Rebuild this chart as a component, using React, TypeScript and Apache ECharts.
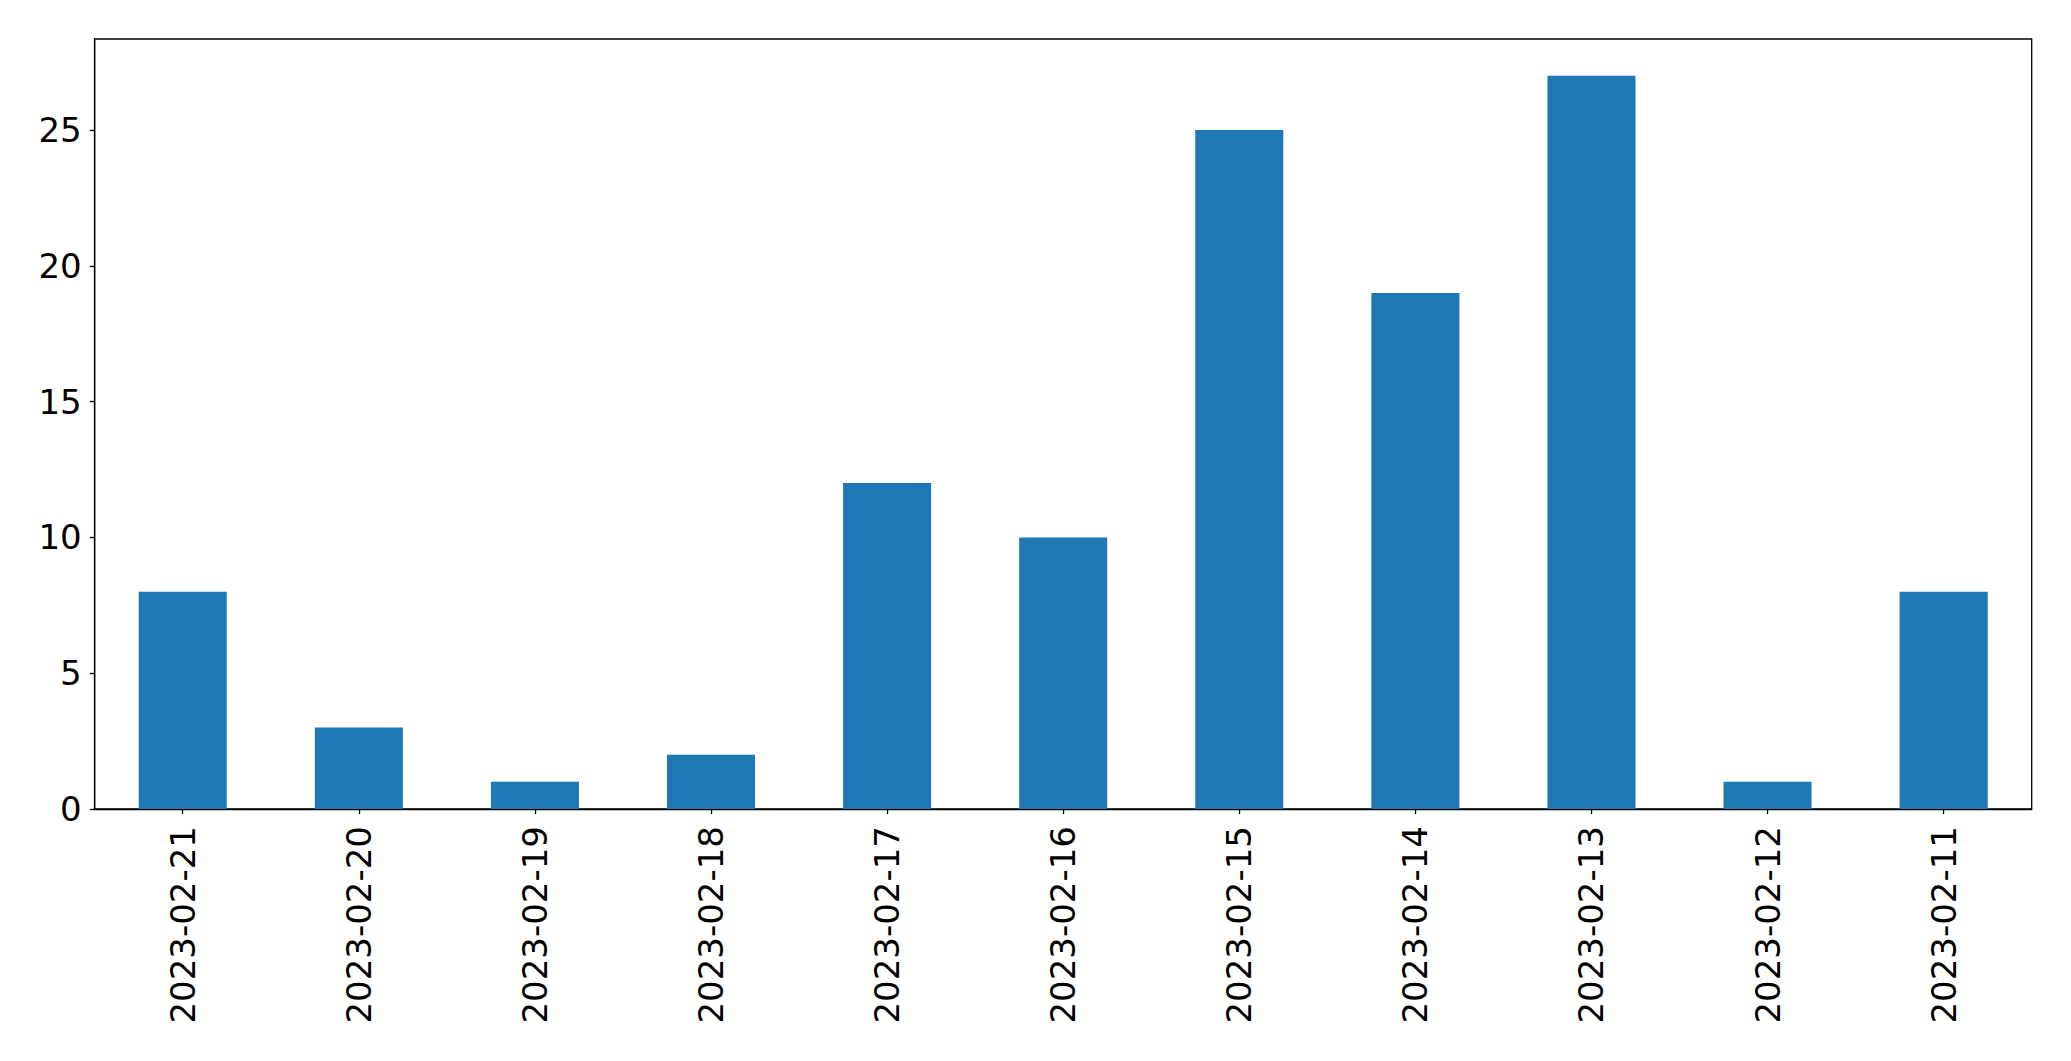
import React, { useEffect, useRef } from "react";
import * as echarts from "echarts";

const categories = [
  "2023-02-21",
  "2023-02-20",
  "2023-02-19",
  "2023-02-18",
  "2023-02-17",
  "2023-02-16",
  "2023-02-15",
  "2023-02-14",
  "2023-02-13",
  "2023-02-12",
  "2023-02-11",
];
const counts = [8, 3, 1, 2, 12, 10, 25, 19, 27, 1, 8];
const yTicks = [0, 5, 10, 15, 20, 25];
const yMax = 28.35;

export default function App() {
  const ref = useRef<HTMLDivElement>(null);
  useEffect(() => {
    if (!ref.current) return;
    const chart = echarts.init(ref.current, undefined, { renderer: "svg" });
    const font = "DejaVu Sans";
    chart.setOption({
      animation: false,
      backgroundColor: "#ffffff",
      grid: {
        left: 94.7,
        top: 39,
        right: 39.3,
        bottom: 252,
        show: true,
        borderColor: "#000000",
        borderWidth: 1.3,
        backgroundColor: "transparent",
      },
      xAxis: {
        type: "category",
        data: categories,
        boundaryGap: true,
        axisLine: { show: true, lineStyle: { color: "#000", width: 1.3 } },
        axisTick: {
          show: true,
          alignWithLabel: true,
          length: 5,
          lineStyle: { color: "#000", width: 1.3 },
        },
        axisLabel: {
          rotate: 90,
          margin: 17,
          color: "#000",
          fontFamily: font,
          fontSize: 34,
        },
        splitLine: { show: false },
      },
      yAxis: {
        type: "value",
        min: 0,
        max: yMax,
        interval: 5,
        axisLine: { show: true, lineStyle: { color: "#000", width: 1.3 } },
        axisTick: {
          show: true,
          length: 5,
          lineStyle: { color: "#000", width: 1.3 },
          customValues: yTicks,
        },
        axisLabel: {
          margin: 13,
          color: "#000",
          fontFamily: font,
          fontSize: 34,
          customValues: yTicks,
        },
        splitLine: { show: false },
      },
      series: [
        {
          type: "bar",
          data: counts,
          barWidth: "50%",
          itemStyle: { color: "#1f77b4" },
        },
      ],
    });
    return () => chart.dispose();
  }, []);
  return (
    <div
      ref={ref}
      style={{ position: "fixed", left: 0, top: 0, width: 2071, height: 1061 }}
    />
  );
}
